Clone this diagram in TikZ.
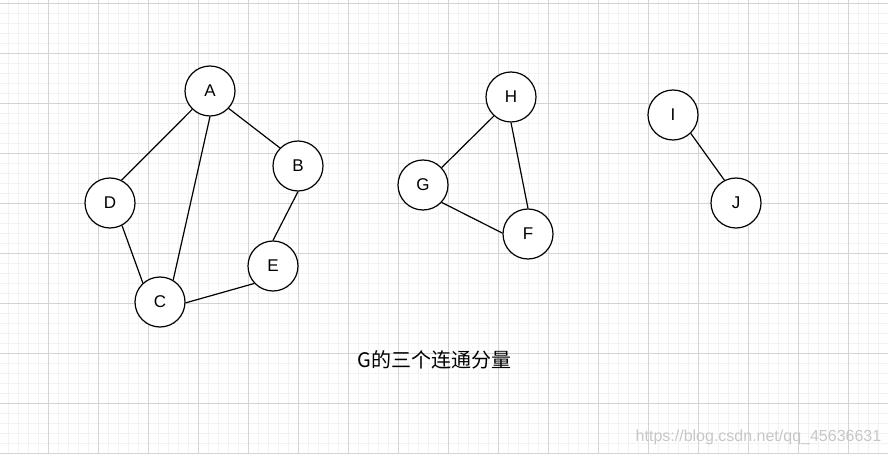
\documentclass[tikz,border=0pt]{standalone}
\usepackage{fontspec}
\setmainfont{Liberation Sans}
\newfontfamily\cjk{Noto Sans CJK SC}
\begin{document}
\begin{tikzpicture}[x=1pt,y=-1pt,
  vtx/.style={circle,draw=black,line width=1.2pt,fill=white,minimum size=50pt,inner sep=0pt,font=\fontsize{17}{19}\selectfont},
  edge/.style={draw=black,line width=1.2pt},
  minorline/.style={draw=black!5,line width=0.7pt},
  majorline/.style={draw=black!17,line width=0.9pt}]
\fill[white] (0,0) rectangle (888,454);
\useasboundingbox (0,0) rectangle (888,454);
\foreach \x in {8,18,...,888} \draw[minorline] (\x,0) -- (\x,454);
\foreach \y in {3,13,...,454} \draw[minorline] (0,\y) -- (888,\y);
\foreach \x in {48,98,...,888} \draw[majorline] (\x,0) -- (\x,454);
\foreach \y in {3,53,...,454} \draw[majorline] (0,\y) -- (888,\y);
% nodes
\node[vtx] (A) at (210,91) {A};
\node[vtx] (B) at (298,166) {B};
\node[vtx] (D) at (110,203) {D};
\node[vtx] (E) at (273,266) {E};
\node[vtx] (C) at (160,302) {C};
\node[vtx] (H) at (511,97) {H};
\node[vtx] (G) at (423,185) {G};
\node[vtx] (F) at (528,234) {F};
\node[vtx] (I) at (673,115) {I};
\node[vtx] (J) at (736,203) {J};
% edges
\draw[edge] (A.226) -- (D.63);
\draw[edge] (A.-43) -- (B.135);
\draw[edge] (A.-90) -- (C.59);
\draw[edge] (B.-90) -- (E.90);
\draw[edge] (D.-62) -- (C.132);
\draw[edge] (C.-2) -- (E.223);
\draw[edge] (H.228) -- (G.43);
\draw[edge] (H.-90) -- (F.90);
\draw[edge] (G.-43) -- (F.178);
\draw[edge] (I.-46) -- (J.117);
% caption
\node[font=\cjk\fontsize{20}{23}\selectfont,inner sep=0pt] (cap) at (434.5,360) {G的三个连通分量};
\node[font=\fontsize{16}{18}\selectfont,text=black!22,inner sep=0pt] (wm) at (758.5,437) {https://blog.csdn.net/qq\_45636631};
\end{tikzpicture}
\end{document}
